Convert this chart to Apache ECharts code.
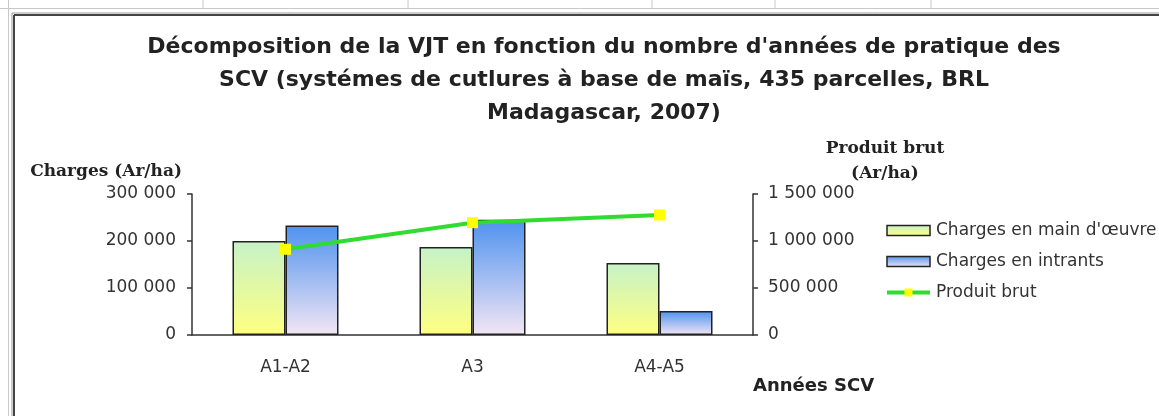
<!DOCTYPE html>
<html>
<head>
<meta charset="utf-8">
<script src="https://cdn.jsdelivr.net/npm/echarts@6/dist/echarts.min.js"></script>
<style>
  html, body { margin: 0; padding: 0; background: #fff; }
  #main { width: 1159px; height: 416px; }
</style>
</head>
<body>
<div id="main"></div>
<script>
// données
const categories = ['A1-A2', 'A3', 'A4-A5']
const chargesMainOeuvre = [200000, 187000, 153000]
const chargesIntrants = [233000, 245000, 51000]
const produitBrut = [912000, 1195000, 1277000]
const leftTicks = [0, 100000, 200000, 300000]
const rightTicks = [0, 500000, 1000000, 1500000]

const fmt = v => String(v).replace(/\B(?=(\d{3})+(?!\d))/g, ' ')

const chart = echarts.init(document.getElementById('main'))

// cadre façon feuille Excel
const gray = '#c8c8c8'
const sheetLines = [203, 408, 652, 775, 931].map(x => ({
  type: 'line', silent: true,
  shape: { x1: x, y1: 0, x2: x, y2: 8 },
  style: { stroke: gray, lineWidth: 1 }
}))

chart.setOption({
  backgroundColor: '#fff',
  animation: false,
  title: {
    text: "Décomposition de la VJT en fonction du nombre d'années de pratique des\nSCV (systémes de cutlures à base de maïs, 435 parcelles, BRL\nMadagascar, 2007)",
    left: 599,
    top: 26,
    textAlign: 'center',
    textStyle: {
      fontFamily: 'DejaVu Sans',
      fontWeight: 'bold',
      fontSize: 22,
      lineHeight: 33,
      color: '#222'
    }
  },
  graphic: [
    { type: 'line', silent: true, shape: { x1: 0, y1: 8.5, x2: 1159, y2: 8.5 }, style: { stroke: gray, lineWidth: 1 } },
    { type: 'line', silent: true, shape: { x1: 8.5, y1: 0, x2: 8.5, y2: 416 }, style: { stroke: gray, lineWidth: 1 } },
    ...sheetLines,
    { type: 'line', silent: true, shape: { x1: 12, y1: 13, x2: 1159, y2: 13 }, style: { stroke: '#999', lineWidth: 1 } },
    { type: 'line', silent: true, shape: { x1: 12, y1: 13, x2: 12, y2: 416 }, style: { stroke: '#999', lineWidth: 1 } },
    { type: 'line', silent: true, shape: { x1: 14, y1: 15, x2: 1159, y2: 15 }, style: { stroke: '#444', lineWidth: 2 } },
    { type: 'line', silent: true, shape: { x1: 14, y1: 15, x2: 14, y2: 416 }, style: { stroke: '#444', lineWidth: 2 } }
  ],
  legend: {
    orient: 'vertical',
    left: 885,
    top: 222,
    padding: 0,
    itemWidth: 43,
    itemHeight: 10,
    itemGap: 14,
    itemStyle: { borderWidth: 1.5 },
    textStyle: { fontFamily: 'DejaVu Sans', fontSize: 17, color: '#333', padding: [0, 0, 0, 1] },
    data: [
      { name: 'Charges en main d\'œuvre', icon: 'rect' },
      { name: 'Charges en intrants', icon: 'rect' },
      { name: 'Produit brut', lineStyle: { width: 4 } }
    ]
  },
  grid: { left: 192, right: 406, top: 194, bottom: 81 },
  xAxis: {
    type: 'category',
    data: categories,
    name: '\n\n\n\nAnnées SCV',
    nameLocation: 'end',
    nameGap: 0,
    nameMoveOverlap: false,
    nameTextStyle: {
      fontFamily: 'DejaVu Sans', fontWeight: 'bold', fontSize: 18, color: '#222',
      lineHeight: 25.5, align: 'left', verticalAlign: 'middle'
    },
    axisLine: { lineStyle: { color: '#333', width: 1.5 } },
    axisTick: { length: 5, lineStyle: { color: '#333', width: 1.5 } },
    axisLabel: { margin: 24, fontFamily: 'DejaVu Sans', fontSize: 17, color: '#333' }
  },
  yAxis: [
    {
      type: 'value',
      min: leftTicks[0],
      max: leftTicks[leftTicks.length - 1],
      interval: leftTicks[1] - leftTicks[0],
      name: 'Charges (Ar/ha)',
      nameLocation: 'end',
      nameGap: 22,
      nameTextStyle: {
        fontFamily: 'DejaVu Serif', fontWeight: 'bold', fontSize: 17, color: '#222',
        align: 'right', verticalAlign: 'middle', padding: [0, 10, 0, 0]
      },
      axisLine: { show: true, lineStyle: { color: '#333', width: 1.5 } },
      axisTick: { show: true, length: 5, lineStyle: { color: '#333', width: 1.5 } },
      axisLabel: { margin: 16, fontFamily: 'DejaVu Sans', fontSize: 17, color: '#333', formatter: fmt },
      splitLine: { show: false }
    },
    {
      type: 'value',
      position: 'right',
      min: rightTicks[0],
      max: rightTicks[rightTicks.length - 1],
      interval: rightTicks[1] - rightTicks[0],
      name: 'Produit brut\n(Ar/ha)',
      nameLocation: 'end',
      nameGap: 25,
      nameTextStyle: {
        fontFamily: 'DejaVu Serif', fontWeight: 'bold', fontSize: 17, color: '#222',
        lineHeight: 25, align: 'center', verticalAlign: 'middle', padding: [0, 0, 0, 264]
      },
      axisLine: { show: true, lineStyle: { color: '#333', width: 1.5 } },
      axisTick: { show: true, length: 5, lineStyle: { color: '#333', width: 1.5 } },
      axisLabel: { margin: 15, fontFamily: 'DejaVu Sans', fontSize: 17, color: '#333', formatter: fmt },
      splitLine: { show: false }
    }
  ],
  series: [
    {
      name: 'Charges en main d\'œuvre',
      type: 'bar',
      data: chargesMainOeuvre,
      barWidth: 53,
      barGap: '0%',
      itemStyle: {
        borderColor: '#222',
        borderWidth: 1.5,
        color: new echarts.graphic.LinearGradient(0, 0, 0, 1, [
          { offset: 0, color: '#c6f2c8' },
          { offset: 1, color: '#ffff80' }
        ])
      }
    },
    {
      name: 'Charges en intrants',
      type: 'bar',
      data: chargesIntrants,
      barWidth: 53,
      itemStyle: {
        borderColor: '#222',
        borderWidth: 1.5,
        color: new echarts.graphic.LinearGradient(0, 0, 0, 1, [
          { offset: 0, color: '#4f92ef' },
          { offset: 1, color: '#f3e6f4' }
        ])
      }
    },
    {
      name: 'Produit brut',
      type: 'line',
      yAxisIndex: 1,
      data: produitBrut,
      symbol: 'rect',
      symbolSize: 11,
      z: 5,
      lineStyle: { color: '#2fdc2f', width: 4 },
      itemStyle: { color: '#ffff00', borderWidth: 0 }
    }
  ]
})
</script>
</body>
</html>
